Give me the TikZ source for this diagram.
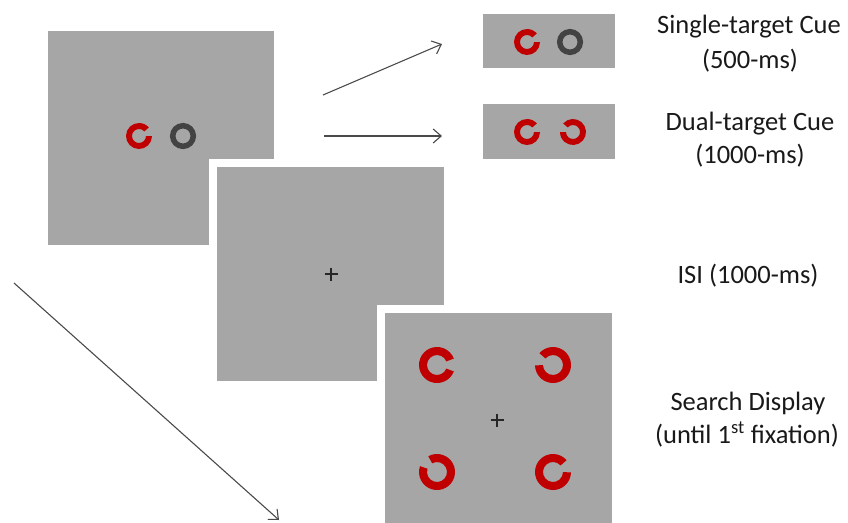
\documentclass[tikz,border=0pt]{standalone}
\usepackage{fontspec}
\setmainfont{Carlito}
\usetikzlibrary{arrows.meta}
\definecolor{panelgray}{HTML}{A6A6A6}
\definecolor{cred}{HTML}{C00000}
\definecolor{ringgray}{HTML}{434343}
\definecolor{arrowgray}{HTML}{4A4A4A}
\newcommand{\landolt}[6]{% x, y, R, r, gap centre, colour
  \fill[#6,shift={(#1,#2)}] ({#5+21}:#3) arc[start angle={#5+21}, end angle={#5+339}, radius=#3]
    -- ({#5+339}:#4) arc[start angle={#5+339}, end angle={#5+21}, radius=#4] -- cycle;}
\newcommand{\fixcross}[2]{%
  \draw[crossline] (#1-6.5,#2) -- (#1+6.5,#2) (#1,#2-6.5) -- (#1,#2+6.5);}
\begin{document}
\begin{tikzpicture}[x=1pt,y=-1pt,
  panel/.style={fill=panelgray, draw=white, line width=8pt, inner sep=0pt, outer sep=0pt},
  smallpanel/.style={fill=panelgray, draw=none, inner sep=0pt, outer sep=0pt},
  crossline/.style={draw=black!85, line width=1.1pt},
  conn/.style={draw=arrowgray, line width=1.1pt, -{Straight Barb[length=8pt,width=14pt,line width=1.1pt]}},
  lab/.style={font=\fontsize{26.5}{30}\selectfont, anchor=base, inner sep=0pt, text=black!90}]
\useasboundingbox (0,0) rectangle (848,522);
% cue panel
\node[panel, minimum width=234pt, minimum height=222pt] (cue) at (161,138) {};
\landolt{139}{136}{13}{7}{-20}{cred}
\draw[ringgray, line width=5.5pt] (183,136) circle[radius=10.3];
% ISI panel
\node[panel, minimum width=235pt, minimum height=222pt] (isi) at (330.5,274) {};
\fixcross{331}{274}
% search panel
\node[panel, minimum width=235pt, minimum height=222pt] (search) at (498.5,420) {};
\landolt{437}{365}{18}{10}{0}{cred}
\landolt{553}{365}{18}{10}{200}{cred}
\landolt{437}{472}{18}{10}{220}{cred}
\landolt{553}{472}{18}{10}{-20}{cred}
\fixcross{497}{420}
% small cue panels
\node[smallpanel, minimum width=132pt, minimum height=54pt] (single) at (549,41) {};
\landolt{527}{42}{13}{7}{-20}{cred}
\draw[ringgray, line width=5.5pt] (570,42) circle[radius=10.3];
\node[smallpanel, minimum width=132pt, minimum height=55pt] (dual) at (549,131.5) {};
\landolt{527}{132}{13}{7}{-20}{cred}
\landolt{573}{132}{13}{7}{200}{cred}
% arrows
\coordinate (a1s) at (323,95);
\coordinate (a1e) at (442,44);
\coordinate (a2s) at (324,136);
\coordinate (a2e) at (442,136);
\coordinate (a3s) at (14,283);
\coordinate (a3e) at (279,520);
\draw[conn] (a1s) -- (a1e);
\draw[conn] (a2s) -- (a2e);
\draw[conn] (a3s) -- (a3e);
% labels
\node[lab] (l1) at (749,33) {Single-target Cue};
\node[lab] (l2) at (750,68) {(500-ms)};
\node[lab] (l3) at (750,130) {Dual-target Cue};
\node[lab] (l4) at (750,163) {(1000-ms)};
\node[lab] (l5) at (748,283) {ISI (1000-ms)};
\node[lab] (l6) at (748,410) {Search Display};
\node[lab] (l7) at (747,443) {(until 1\textsuperscript{st} fixation)};
\end{tikzpicture}
\end{document}
